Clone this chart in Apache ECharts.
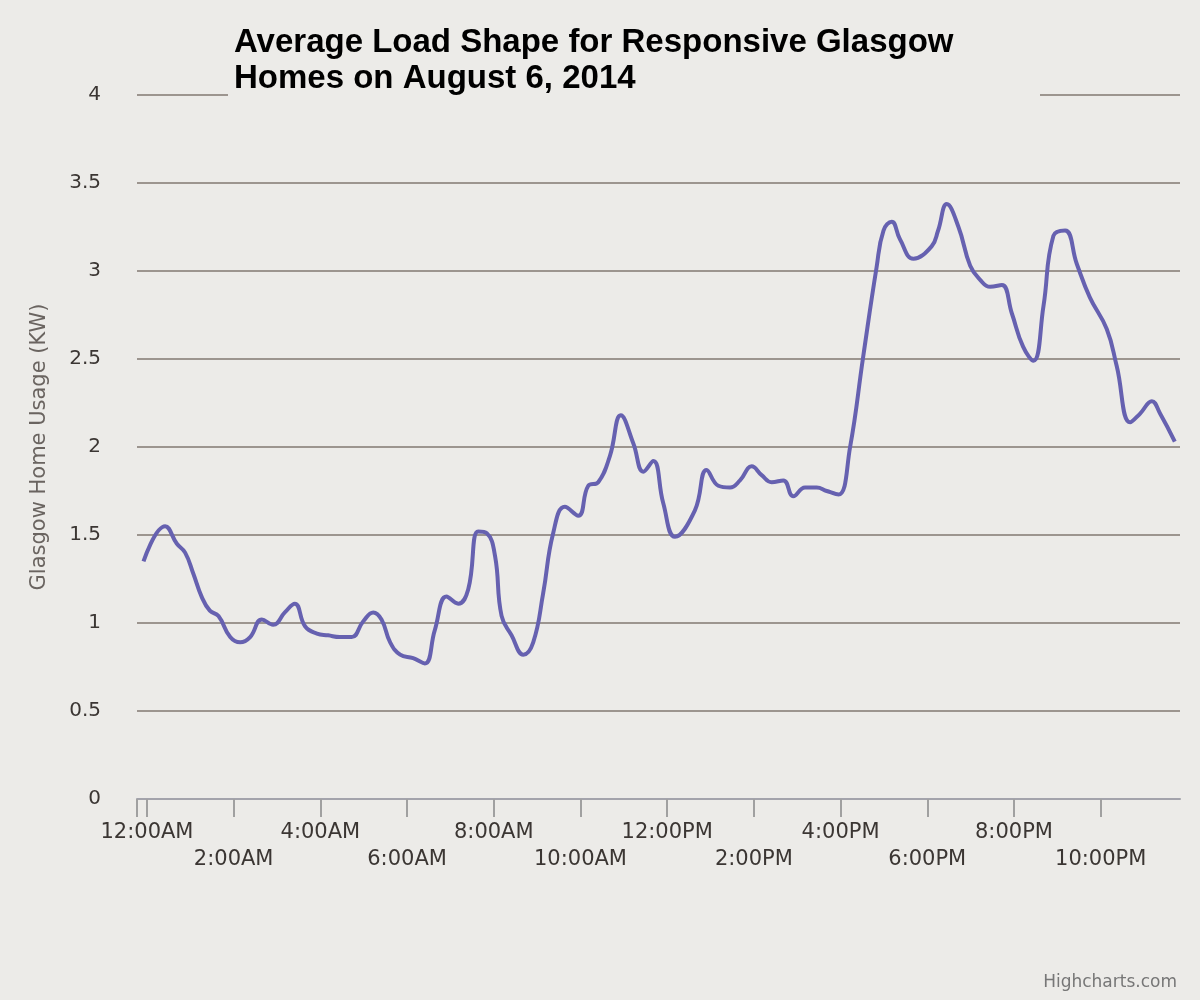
<!DOCTYPE html>
<html>
<head>
<meta charset="UTF-8">
<title>Average Load Shape</title>
<script type="text/javascript" src="https://cdn.jsdelivr.net/npm/echarts@6/dist/echarts.min.js"></script>
<style>
  html, body { margin: 0; padding: 0; background: #ecebe8; }
  #container { width: 1200px; height: 1000px; }
</style>
</head>
<body>
<div id="container"></div>
<script type="text/javascript">
// hour of day (decimal)
var hours = [
  -0.08, 0.42, 0.69, 0.88, 1.07, 1.26, 1.45, 1.65, 1.92, 2.15,
  2.38, 2.65, 2.91, 3.18, 3.41, 3.65, 3.92, 4.18, 4.45, 4.72,
  4.99, 5.22, 5.41, 5.61, 5.84, 6.14, 6.41, 6.64, 6.91, 7.18,
  7.41, 7.64, 7.84, 8.03, 8.18, 8.41, 8.68, 8.91, 9.14, 9.37,
  9.64, 9.95, 10.18, 10.41, 10.68, 10.93, 11.22, 11.45, 11.68, 11.91,
  12.18, 12.64, 12.91, 13.18, 13.45, 13.68, 13.95, 14.18, 14.41, 14.68,
  14.91, 15.18, 15.45, 15.68, 15.95, 16.22, 16.52, 16.83, 16.99, 17.18,
  17.37, 17.68, 18.10, 18.25, 18.45, 18.72, 18.99, 19.22, 19.45, 19.72,
  19.95, 20.21, 20.45, 20.68, 20.91, 21.18, 21.45, 21.75, 22.14, 22.37,
  22.68, 22.91, 23.18, 23.37, 23.71
];
// average usage in kW
var usage = [
  1.35, 1.55, 1.45, 1.40, 1.28, 1.15, 1.07, 1.04, 0.92, 0.89,
  0.92, 1.02, 0.99, 1.06, 1.11, 0.98, 0.94, 0.93, 0.92, 0.92,
  1.01, 1.06, 1.02, 0.89, 0.82, 0.80, 0.77, 0.96, 1.15, 1.11,
  1.19, 1.52, 1.51, 1.38, 1.04, 0.93, 0.82, 0.89, 1.17, 1.51,
  1.66, 1.61, 1.78, 1.80, 1.95, 2.18, 2.02, 1.86, 1.92, 1.68,
  1.49, 1.64, 1.87, 1.78, 1.77, 1.81, 1.89, 1.84, 1.80, 1.81,
  1.72, 1.77, 1.77, 1.75, 1.73, 2.00, 2.51, 3.02, 3.23, 3.28,
  3.18, 3.07, 3.14, 3.23, 3.38, 3.25, 3.03, 2.95, 2.91, 2.92,
  2.76, 2.57, 2.49, 2.80, 3.20, 3.23, 3.04, 2.85, 2.67, 2.46,
  2.14, 2.19, 2.26, 2.19, 2.03
];
var tickHours = [0, 2, 4, 6, 8, 10, 12, 14, 16, 18, 20, 22];
var tickLabels = ['12:00AM', '2:00AM', '4:00AM', '6:00AM', '8:00AM', '10:00AM',
                  '12:00PM', '2:00PM', '4:00PM', '6:00PM', '8:00PM', '10:00PM'];

var xMin = -0.23, xMax = 23.83;
var points = [];
for (var i = 0; i < hours.length; i++) {
  points.push([hours[i], usage[i]]);
}

var chart = echarts.init(document.getElementById('container'));
chart.setOption({
  backgroundColor: '#ecebe8',
  animation: false,
  title: [{
    text: 'Average Load Shape for Responsive Glasgow\nHomes on August 6, 2014',
    left: 228,
    top: 20,
    padding: [5, 6, 5, 6],
    backgroundColor: '#ecebe8',
    z: 10,
    textStyle: {
      fontFamily: 'Liberation Sans',
      fontWeight: 'bold',
      fontSize: 33,
      lineHeight: 36,
      color: '#000',
      width: 800
    }
  }, {
    text: 'Highcharts.com',
    right: 18,
    bottom: 4,
    textStyle: {
      fontFamily: 'DejaVu Sans',
      fontWeight: 'normal',
      fontSize: 17,
      color: '#777'
    }
  }],
  grid: { left: 137, right: 20, top: 95, bottom: 201 },
  xAxis: {
    type: 'value',
    min: xMin,
    max: xMax,
    axisLine: { lineStyle: { color: '#a3a3ab', width: 2 } },
    axisTick: {
      show: true,
      length: 18,
      customValues: [xMin].concat(tickHours),
      lineStyle: { color: '#a0a0a0', width: 2 }
    },
    splitLine: { show: false },
    axisLabel: {
      customValues: tickHours,
      margin: 20,
      fontFamily: 'DejaVu Sans',
      fontSize: 21,
      lineHeight: 27,
      color: '#3b3633',
      formatter: function (v) {
        var idx = tickHours.indexOf(Math.round(v));
        var txt = tickLabels[idx];
        return (Math.round(v) % 4 === 2) ? '\n' + txt : txt;
      }
    }
  },
  yAxis: {
    type: 'value',
    min: 0,
    max: 4,
    interval: 0.5,
    name: 'Glasgow Home Usage (KW)',
    nameLocation: 'middle',
    nameGap: 87,
    nameTextStyle: {
      fontFamily: 'DejaVu Sans',
      fontSize: 21,
      color: '#6a6460'
    },
    axisLine: { show: false },
    axisTick: { show: false },
    axisLabel: {
      margin: 36,
      fontFamily: 'DejaVu Sans',
      fontSize: 20,
      color: '#3b3633'
    },
    splitLine: { lineStyle: { color: '#9c958f', width: 2 } }
  },
  series: [{
    name: 'Usage',
    type: 'line',
    data: points,
    smooth: 0.45,
    showSymbol: false,
    lineStyle: { color: '#6661b0', width: 4 },
    itemStyle: { color: '#6661b0' }
  }]
});
</script>
</body>
</html>
